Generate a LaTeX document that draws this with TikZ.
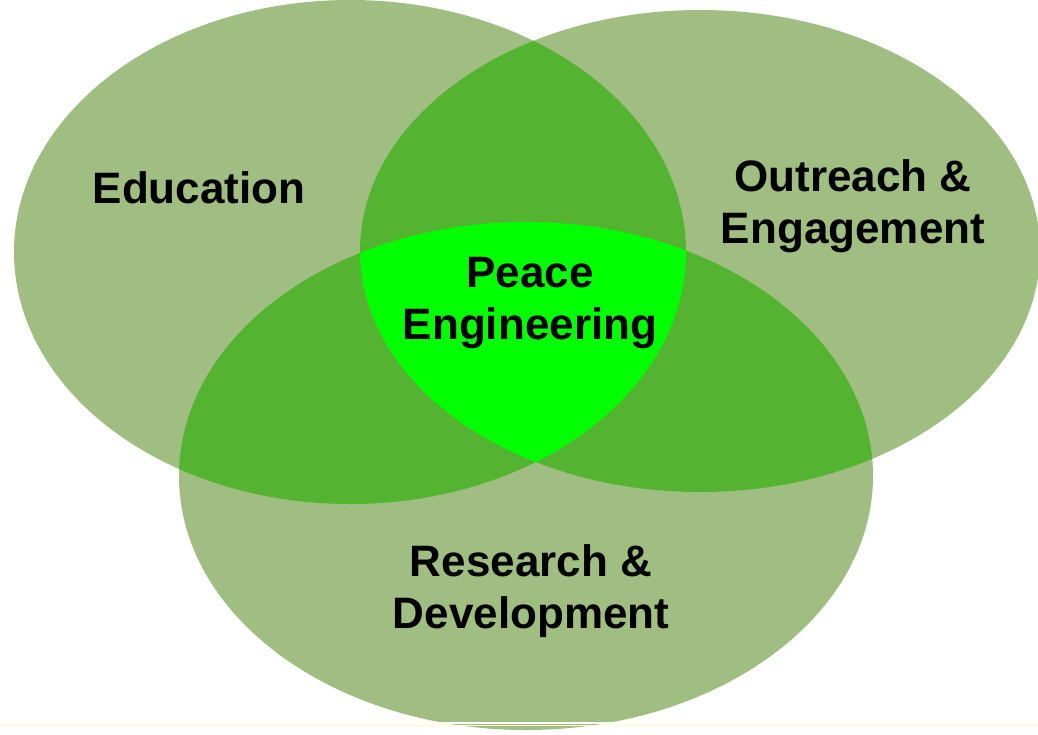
\documentclass[tikz,border=0pt]{standalone}
\usepackage{fontspec}
\setmainfont{Liberation Sans}
\definecolor{setgreen}{HTML}{A0BE82}
\definecolor{pairgreen}{HTML}{54B432}
\definecolor{coregreen}{HTML}{00FF00}
\definecolor{paleline}{HTML}{FFFFD2}

% the three sets of the diagram
\newcommand{\eduset}{(350,252) ellipse [x radius=336pt, y radius=252pt]}
\newcommand{\outset}{(700,251) ellipse [x radius=340pt, y radius=241pt]}
\newcommand{\resset}{(526,476) ellipse [x radius=347pt, y radius=254pt]}

\begin{document}
\begin{tikzpicture}[x=1pt, y=-1pt,
  setlabel/.style={font=\fontsize{44}{51.5}\selectfont\bfseries, align=center, inner sep=0pt}
]
\useasboundingbox (0,0) rectangle (1038,734);
\fill[white] (0,0) rectangle (1038,734);

% single sets
\fill[setgreen] \eduset;
\fill[setgreen] \outset;
\fill[setgreen] \resset;

% pairwise overlaps
\begin{scope}
  \clip \eduset;
  \fill[pairgreen] \outset;
  \fill[pairgreen] \resset;
\end{scope}
\begin{scope}
  \clip \outset;
  \fill[pairgreen] \resset;
\end{scope}

% all three
\begin{scope}
  \clip \eduset;
  \clip \outset;
  \fill[coregreen] \resset;
\end{scope}

% thin rule at the foot
\draw[white, line width=1.2pt] (0,723) -- (1038,723);
\draw[paleline, line width=1.6pt] (0,725.5) -- (1038,725.5);

\node[setlabel] (education) at (199,188) {Education};
\node[setlabel] (outreach) at (853,206) {Outreach \&\\Engagement};
\node[setlabel] (peace) at (530,303) {Peace\\Engineering};
\node[setlabel] (research) at (531,591) {Research \&\\Development};
\end{tikzpicture}
\end{document}
